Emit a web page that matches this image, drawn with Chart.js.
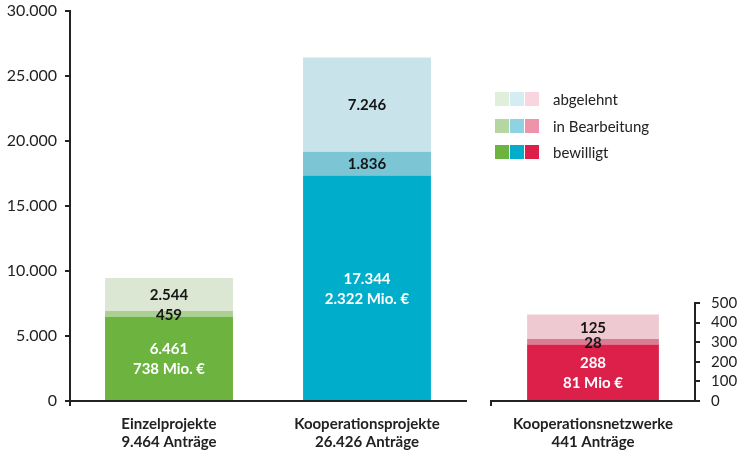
<!DOCTYPE html>
<html lang="de">
<head>
<meta charset="utf-8">
<script src="https://cdn.jsdelivr.net/npm/chart.js@4"></script>
<style>
  body { margin: 0; background: #fff; font-family: Lato, sans-serif; }
  #wrap { position: relative; width: 738px; height: 457px; }
  canvas { position: absolute; top: 0; }
  #left { left: 0; }
  #right { left: 480px; }
  #legend { position: absolute; left: 495px; top: 92px; z-index: 2; }
  .row { display: flex; align-items: center; height: 14px; margin-bottom: 12.5px; }
  .sw { width: 14px; height: 14px; margin-right: 1px; }
  .row span { margin-left: 13px; font-size: 15px; color: #222; }
</style>
</head>
<body>
<div id="wrap">
  <canvas id="left" width="480" height="457"></canvas>
  <canvas id="right" width="258" height="457"></canvas>
  <div id="legend"></div>
</div>
<script>
const categories = ['Einzelprojekte', 'Kooperationsprojekte', 'Kooperationsnetzwerke'];
const bewilligt = [6461, 17344, 288];
const inBearbeitung = [459, 1836, 28];
const abgelehnt = [2544, 7246, 125];
const foerdersumme = ['738 Mio. €', '2.322 Mio. €', '81 Mio €'];
const seriesNames = ['bewilligt', 'in Bearbeitung', 'abgelehnt'];

// colours per category: [bewilligt, in Bearbeitung, abgelehnt]
const colors = [
  ['#6cb33f', '#acd092', '#dbe7d3'],
  ['#00aecb', '#7cc5d5', '#c9e3ea'],
  ['#dc2049', '#d97d92', '#efc9d2']
];
const legendColors = [
  ['#6cb33f', '#00aecb', '#dc2049'],
  ['#b5d6a1', '#8dd3e2', '#ee93a9'],
  ['#e0efdb', '#d4edf3', '#f9d5df']
];

const ink = '#222';
const fontFamily = 'Lato, sans-serif';

function fmt(n) {
  return String(n).replace(/\B(?=(\d{3})+(?!\d))/g, '.');
}

// legend (top row = abgelehnt)
const legend = document.getElementById('legend');
[2, 1, 0].forEach(s => {
  const row = document.createElement('div');
  row.className = 'row';
  for (let c = 0; c < 3; c++) {
    const sw = document.createElement('div');
    sw.className = 'sw';
    sw.style.background = legendColors[s][c];
    row.appendChild(sw);
  }
  const t = document.createElement('span');
  t.textContent = seriesNames[s];
  row.appendChild(t);
  legend.appendChild(row);
});

const barLabels = {
  id: 'barLabels',
  afterDatasetsDraw(chart) {
    const ctx = chart.ctx;
    const offset = chart.options.plugins.barLabels.offset;
    ctx.save();
    ctx.textAlign = 'center';
    ctx.textBaseline = 'middle';
    ctx.font = 'bold 15px ' + fontFamily;
    chart.data.datasets.forEach((ds, di) => {
      const meta = chart.getDatasetMeta(di);
      meta.data.forEach((bar, i) => {
        const v = ds.data[i];
        if (v == null) return;
        const p = bar.getProps(['x', 'y', 'base'], true);
        const cy = (p.y + p.base) / 2;
        if (di === 0) {
          ctx.fillStyle = '#fff';
          ctx.fillText(fmt(v), p.x, cy - 9);
          ctx.fillText(foerdersumme[offset + i], p.x, cy + 11);
        } else {
          ctx.fillStyle = '#151515';
          ctx.fillText(fmt(v), p.x, cy + 1);
        }
      });
    });
    ctx.restore();
  }
};

// keep the plot area where the layout padding puts it
function noOverflow(s) {
  s.paddingTop = 0;
  s.paddingBottom = 0;
}

function makeChart(id, from, to, yOpts, padding) {
  const idx = [];
  for (let i = from; i < to; i++) idx.push(i);
  const series = [bewilligt, inBearbeitung, abgelehnt];
  return new Chart(document.getElementById(id), {
    type: 'bar',
    data: {
      labels: idx.map(i => [categories[i], fmt(bewilligt[i] + inBearbeitung[i] + abgelehnt[i]) + ' Anträge']),
      datasets: series.map((arr, s) => ({
        label: seriesNames[s],
        data: idx.map(i => arr[i]),
        backgroundColor: idx.map(i => colors[i][s]),
        borderWidth: 0,
        categoryPercentage: 1,
        barPercentage: 0.646
      }))
    },
    plugins: [barLabels],
    options: {
      responsive: false,
      animation: false,
      layout: { padding: padding },
      plugins: {
        legend: { display: false },
        tooltip: { enabled: false },
        barLabels: { offset: from }
      },
      scales: {
        x: {
          stacked: true,
          grid: {
            offset: true,
            drawOnChartArea: false,
            tickLength: 5,
            lineWidth: 2,
            color: c => (c.index === 0 || c.index === idx.length) ? ink : 'rgba(0,0,0,0)'
          },
          border: { color: ink, width: 2 },
          ticks: {
            color: ink,
            padding: 9,
            font: { family: fontFamily, size: 15, weight: 'bold', lineHeight: 1.2 }
          },
          afterFit: s => { s.height = 56; s.paddingLeft = 0; s.paddingRight = 0; }
        },
        y: Object.assign({
          stacked: true,
          min: 0,
          grid: { drawOnChartArea: false, tickLength: 5, lineWidth: 2, color: ink },
          border: { color: ink, width: 2 }
        }, yOpts)
      }
    }
  });
}

makeChart('left', 0, 2, {
  position: 'left',
  max: 30000,
  ticks: {
    stepSize: 5000,
    color: ink,
    padding: 8,
    font: { family: fontFamily, size: 16 },
    callback: v => fmt(v)
  },
  afterFit: s => { s.width = 70; noOverflow(s); }
}, { top: 11, right: 14, left: 0, bottom: 0 });

makeChart('right', 2, 3, {
  position: 'right',
  max: 500,
  ticks: {
    stepSize: 100,
    autoSkip: false,
    color: ink,
    padding: 11,
    font: { family: fontFamily, size: 15, lineHeight: 1 }
  },
  afterFit: s => { s.width = 43; noOverflow(s); }
}, { top: 303, right: 0, left: 11, bottom: 0 });
</script>
</body>
</html>
